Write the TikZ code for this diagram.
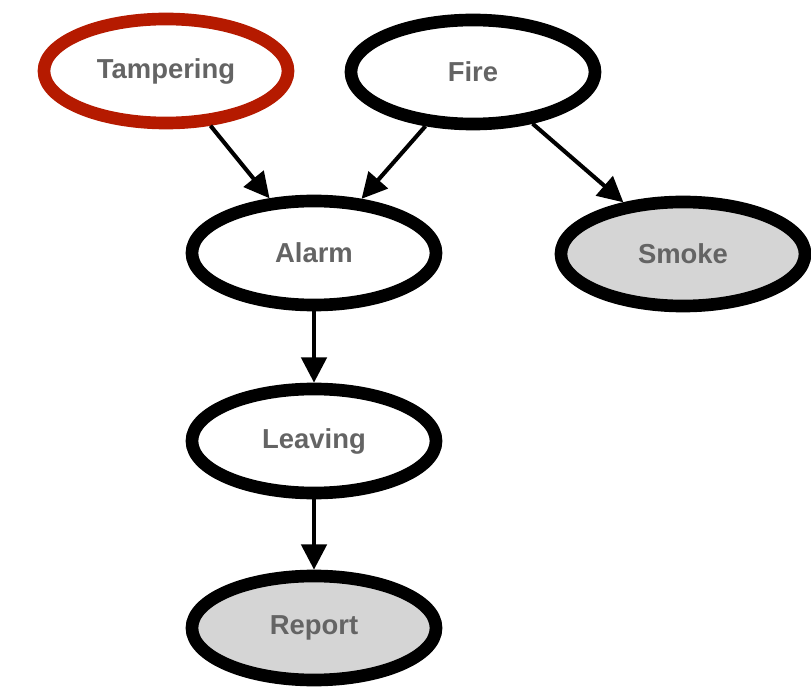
\documentclass[tikz,border=0pt]{standalone}
\usepackage{fontspec}
\setmainfont{Liberation Sans}
\usetikzlibrary{shapes.geometric}
\usetikzlibrary{arrows.meta}

\definecolor{labelgray}{HTML}{646464}
\definecolor{obsgray}{HTML}{D5D5D5}
\definecolor{intred}{HTML}{B51A00}

\tikzset{
	var/.style={ellipse, draw=black, line width=9pt, fill=white,
		minimum width=6.1cm, minimum height=2.6cm, inner sep=0pt,
		text=labelgray, font=\bfseries\fontsize{19.5}{24}\selectfont},
	observed/.style={var, fill=obsgray},
	tampered/.style={var, draw=intred},
	edge/.style={line width=2.9pt, -{Triangle[length=18pt,width=18pt]}}
}

\begin{document}
\begin{tikzpicture}[x=0.025cm,y=-0.025cm]
		\useasboundingbox (0,0) rectangle (811,689);
		
		\node[tampered] (tamper) at (166,71) {Tampering};
		\node[var] (fire) at (473,72) {Fire};
		\node[var] (alarm) at (314,253) {Alarm};
		\node[observed] (smoke) at (683,254) {Smoke};
		\node[var] (leave) at (314,441) {Leaving};
		\node[observed] (report) at (314,628) {Report};
		
		\draw[edge] (tamper) -- (alarm);
		\draw[edge] (fire) -- (alarm);
		\draw[edge] (fire) -- (smoke);
		\draw[edge] (alarm) -- (leave);
		\draw[edge] (leave) -- (report);
	\end{tikzpicture}
\end{document}
